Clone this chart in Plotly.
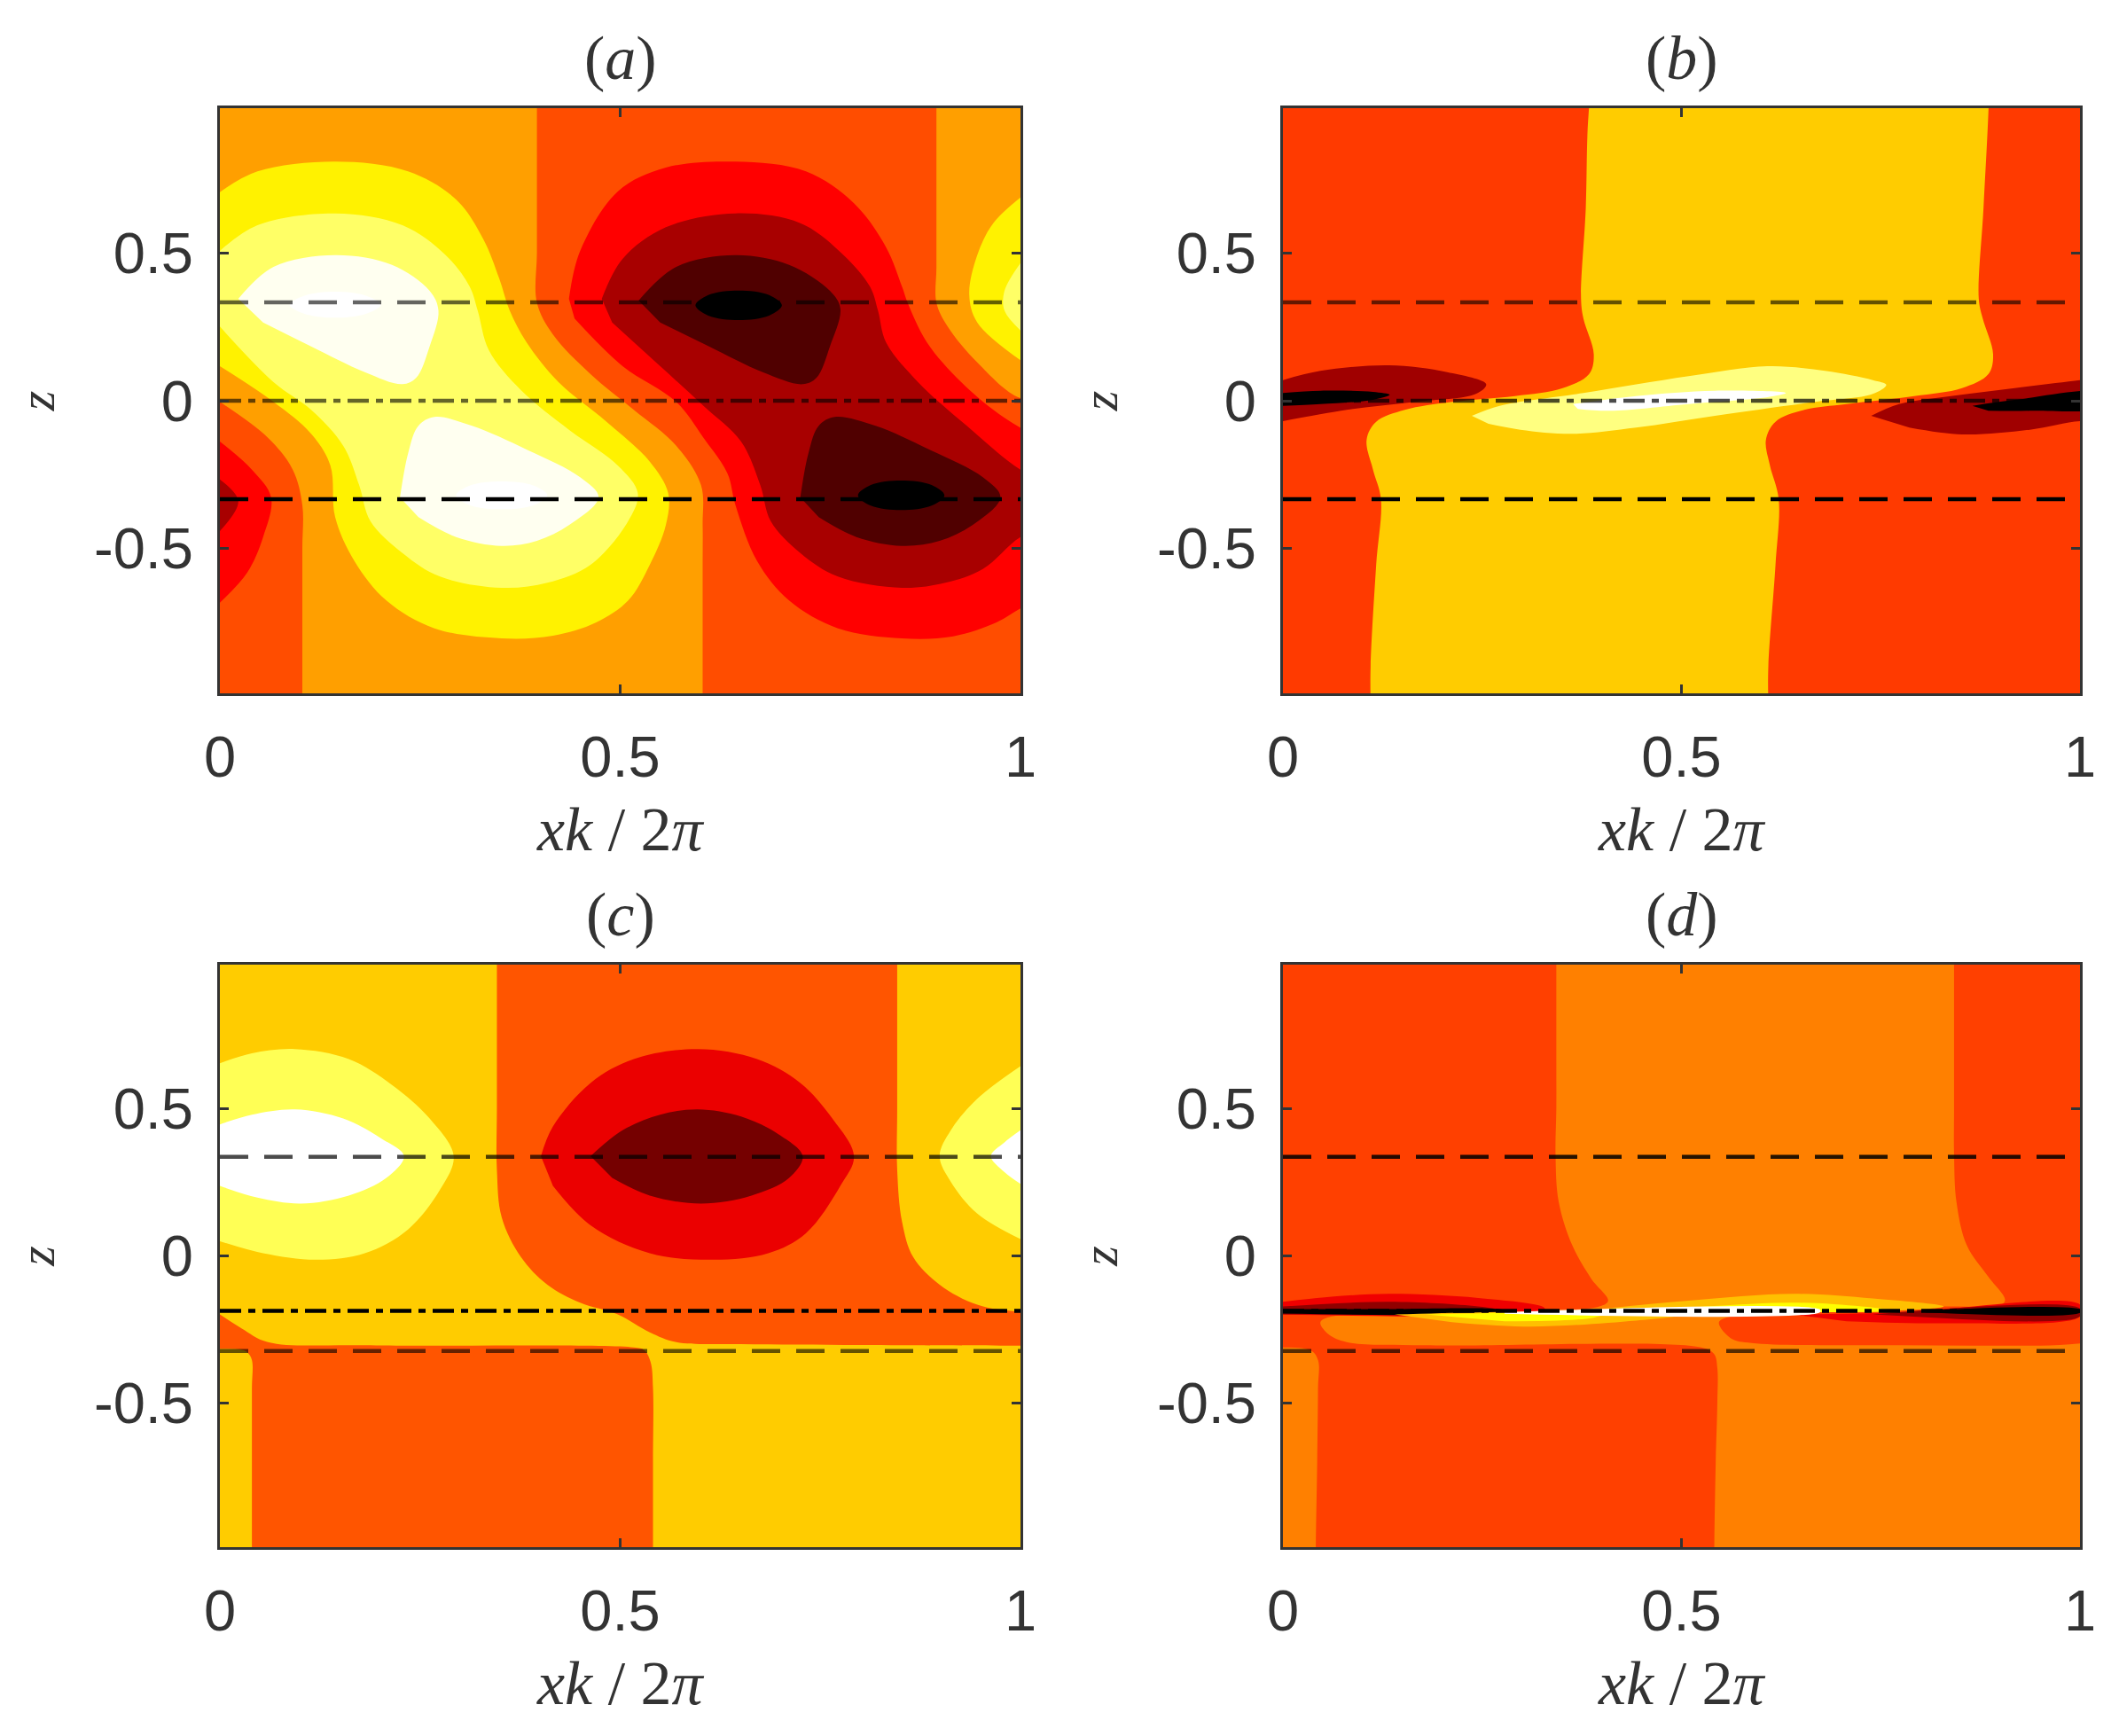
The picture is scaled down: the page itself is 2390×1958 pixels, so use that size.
# -*- coding: utf-8 -*-
import plotly.graph_objects as go

# contour outlines, (xk/2pi, z)
A_ORANGE = [(0,1.3),(.396,1.3),(.396,1.05),(.396,.7),(.396,.5),(.396,.332),(.416,.224),(.463,.09),(.517,-.031),(.57,-.152),(.601,-.286),(.603,-.421),(.603,-.55),(.603,-.7),(.603,-1.05),(.603,-1.3),(.103,-1.3),(.103,-1.05),(.103,-.7),(.103,-.5),(.103,-.353),(.091,-.233),(.06,-.125),(0,-.004)]
A_ORANGE_R = [(.895,1.3),(.895,1.05),(.895,.6),(.895,.45),(.895,.332),(.909,.251),(.946,.13),(1,.009),(1.05,.009),(1.05,1.3)]
A_YELLOW = [(0,.706),(.047,.776),(.144,.809),(.235,.776),(.295,.681),(.329,.547),(.349,.413),(.362,.305),(.383,.198),(.423,.063),(.483,-.071),(.537,-.206),(.56,-.313),(.557,-.421),(.537,-.555),(.51,-.676),(.47,-.75),(.416,-.795),(.352,-.804),(.268,-.77),(.208,-.676),(.168,-.542),(.144,-.394),(.138,-.219),(.114,-.112),(.067,-.004),(0,.117)]
A_YELLOW_R = [(1,.688),(.966,.601),(.946,.493),(.936,.359),(.946,.265),(1,.137)]
A_LIGHT = [(0,.507),(.047,.594),(.144,.634),(.228,.594),(.282,.493),(.312,.386),(.322,.305),(.336,.171),(.376,.036),(.436,-.098),(.497,-.219),(.522,-.313),(.51,-.407),(.463,-.555),(.409,-.616),(.352,-.633),(.275,-.595),(.228,-.515),(.188,-.407),(.174,-.286),(.154,-.152),(.114,-.031),(.067,.063),(0,.251)]
A_LIGHT_R = [(1,.466),(.98,.372),(.98,.305),(1,.238)]
A_PALE_TOP = [(.023,.345),(.067,.453),(.144,.493),(.215,.46),(.262,.372),(.273,.305),(.262,.184),(.245,.077),(.228,.056),(.181,.097),(.114,.184),(.054,.265)]
A_PALE_BOT = [(.225,-.327),(.235,-.179),(.248,-.085),(.268,-.055),(.315,-.085),(.383,-.165),(.45,-.259),(.473,-.327),(.436,-.421),(.396,-.474),(.352,-.491),(.295,-.461),(.248,-.394)]
A_WHITE_TOP = [(.087,.325),(.105,.355),(.144,.369),(.183,.355),(.201,.325),(.183,.295),(.144,.281),(.105,.295),(.087,.325)]
A_WHITE_BOT = [(.295,-.32),(.312,-.287),(.352,-.273),(.392,-.287),(.409,-.32),(.392,-.353),(.352,-.367),(.312,-.353),(.295,-.32)]
A_RED = [(.436,.345),(.45,.507),(.497,.708),(.557,.789),(.644,.809),(.732,.776),(.792,.668),(.832,.52),(.852,.386),(.859,.332),(.883,.198),(.926,.063),(.98,-.058),(1.04,-.15),(1.1,-.25),(1.1,-.55),(1.04,-.65),(1,-.703),(.97,-.75),(.916,-.797),(.852,-.804),(.772,-.77),(.711,-.676),(.671,-.542),(.644,-.353),(.634,-.246),(.604,-.125),(.57,-.004),(.503,.117),(.443,.278)]
A_RED_L = [(0,-.138),(.04,-.233),(.064,-.327),(.054,-.461),(.034,-.582),(0,-.683)]
A_DARK = [(.477,.345),(.503,.48),(.557,.587),(.644,.634),(.725,.601),(.779,.493),(.812,.386),(.822,.305),(.832,.198),(.872,.063),(.933,-.085),(1,-.233),(1.04,-.28),(1.06,-.36),(1.04,-.42),(1,-.461),(.953,-.569),(.906,-.616),(.852,-.633),(.772,-.595),(.725,-.515),(.688,-.407),(.675,-.286),(.651,-.138),(.604,-.017),(.55,.117),(.49,.265)]
A_DARK_L = [(0,-.266),(.023,-.34),(0,-.441)]
A_VDARK_TOP = [(.523,.339),(.57,.453),(.644,.493),(.711,.46),(.762,.372),(.775,.312),(.762,.184),(.745,.077),(.728,.056),(.678,.097),(.611,.184),(.55,.265)]
A_VDARK_BOT = [(.725,-.327),(.735,-.179),(.748,-.085),(.768,-.055),(.819,-.085),(.886,-.165),(.953,-.259),(.975,-.327),(.94,-.421),(.899,-.474),(.852,-.491),(.795,-.461),(.748,-.394)]
A_BLACK_TOP = [(.594,.323),(.61,.358),(.648,.373),(.686,.358),(.702,.323),(.686,.288),(.648,.273),(.61,.288),(.594,.323)]
A_BLACK_BOT = [(.797,-.32),(.813,-.285),(.851,-.27),(.889,-.285),(.905,-.32),(.889,-.355),(.851,-.37),(.813,-.355),(.797,-.32)]

B_YELLOW = [(.385,1.3),(.385,1.05),(.382,.9),(.38,.655),(.374,.345),(.377,.278),(.39,.157),(.384,.09),(.351,.043),(.291,.016),(.212,-.004),(.153,-.031),(.117,-.071),(.105,-.132),(.113,-.233),(.123,-.333),(.117,-.555),(.11,-.9),(.11,-1.05),(.11,-1.3),(.609,-1.3),(.609,-1.05),(.609,-.9),(.618,-.555),(.622,-.333),(.611,-.219),(.606,-.132),(.618,-.071),(.654,-.031),(.707,-.011),(.792,.016),(.852,.043),(.885,.09),(.891,.157),(.878,.278),(.873,.345),(.879,.655),(.886,1.05),(.886,1.3)]
B_LIGHT = [(.237,-.051),(.272,-.017),(.377,.026),(.509,.083),(.608,.117),(.68,.101),(.74,.07),(.757,.054),(.74,.023),(.667,-.004),(.542,-.051),(.443,-.091),(.364,-.112),(.298,-.098),(.258,-.078)]
B_WHITE = [(.364,-.011),(.443,.016),(.542,.034),(.631,.026),(.608,.012),(.509,-.011),(.41,-.034),(.37,-.028)]
B_DARK_L = [(0,.07),(.047,.101),(.133,.12),(.206,.097),(.255,.056),(.242,.023),(.166,-.004),(.08,-.031),(0,-.069)]
B_BLACK_L = [(0,.026),(.047,.034),(.113,.03),(.134,.02),(.113,.003),(.047,-.011),(0,-.017)]
B_DARK_R = [(.738,-.051),(.773,-.011),(.838,.016),(.918,.043),(1,.07),(1.03,.08),(1.03,-.075),(1,-.069),(.937,-.098),(.852,-.114),(.786,-.091)]
B_BLACK_R = [(.865,-.017),(.918,.003),(1.03,.026),(1.03,-.02),(.937,-.034),(.885,-.034)]

C_RED_UP = [(.346,1.3),(.346,1.05),(.346,.7),(.346,.5),(.346,.292),(.352,.131),(.376,-.004),(.409,-.098),(.45,-.159),(.497,-.199),(.537,-.26),(.57,-.293),(.651,-.3),(.8,-.303),(1,-.305),(1.1,-.305),(1.1,-.19),(1,-.19),(.946,-.166),(.899,-.098),(.866,-.004),(.852,.117),(.846,.292),(.846,.5),(.846,.7),(.846,1.05),(.846,1.3)]
C_RED_LOW = [(0,-.199),(.027,-.246),(.06,-.293),(.181,-.304),(.517,-.311),(.53,-.32),(.538,-.361),(.541,-.45),(.541,-.7),(.541,-1.05),(.541,-1.3),(.04,-1.3),(.04,-1.05),(.04,-.7),(.04,-.45),(.04,-.354),(.034,-.327),(.025,-.318),(0,-.316)]
C_LIGHT_L = [(0,.655),(.04,.689),(.094,.703),(.161,.669),(.215,.581),(.262,.467),(.292,.339),(.275,.225),(.235,.09),(.181,.009),(.121,-.013),(.054,.009),(0,.05)]
C_WHITE_L = [(0,.447),(.04,.48),(.094,.498),(.154,.467),(.201,.4),(.23,.339),(.208,.265),(.161,.205),(.101,.178),(.047,.198),(0,.238)]
C_LIGHT_R = [(1,.645),(.946,.534),(.913,.427),(.899,.339),(.913,.252),(.946,.144),(1,.057)]
C_WHITE_R = [(1,.427),(.98,.386),(.963,.339),(.98,.285),(1,.245)]
C_RED = [(.401,.339),(.416,.44),(.463,.588),(.517,.669),(.597,.703),(.671,.669),(.725,.588),(.765,.467),(.792,.339),(.775,.238),(.732,.077),(.685,.009),(.617,-.013),(.537,.009),(.463,.104),(.416,.238)]
C_DARK = [(.463,.339),(.503,.427),(.55,.48),(.597,.498),(.651,.474),(.698,.413),(.728,.339),(.711,.265),(.664,.205),(.601,.178),(.537,.205),(.49,.265)]

D_ORANGE = [(.343,1.3),(.343,1.05),(.343,.7),(.343,.5),(.342,.346),(.346,.184),(.363,.036),(.387,-.078),(.408,-.152),(.397,-.172),(.311,-.186),(.14,-.199),(.061,-.206),(.047,-.226),(.057,-.266),(.08,-.293),(.179,-.304),(.525,-.311),(.541,-.334),(.545,-.381),(.545,-.5),(.543,-.7),(.541,-1.05),(.541,-1.3),(1.1,-1.3),(1.1,-.4),(1.1,-.307),(.95,-.305),(.773,-.304),(.588,-.296),(.562,-.28),(.547,-.226),(.562,-.206),(.641,-.19),(.825,-.172),(.901,-.166),(.906,-.149),(.885,-.071),(.858,.036),(.845,.184),(.842,.346),(.842,.5),(.842,.7),(.842,1.05),(.842,1.3)]
D_ORANGE_L = [(-.05,-.32),(.034,-.32),(.044,-.354),(.044,-.45),(.043,-.7),(.041,-1.05),(.041,-1.3),(-.05,-1.3)]
D_RED_L = [(0,-.156),(.061,-.139),(.133,-.129),(.245,-.143),(.328,-.176),(.328,-.187),(0,-.199)]
D_DARK_L = [(0,-.172),(.133,-.156),(.245,-.172),(.278,-.187),(0,-.199)]
D_BLACK_L = [(0,-.181),(.113,-.181),(.278,-.185),(.278,-.19),(0,-.196)]
D_RED_R = [(.641,-.199),(.773,-.192),(1,-.166),(1,-.206),(.838,-.229),(.707,-.222)]
D_DARK_R = [(.74,-.199),(1,-.179),(1,-.206),(.838,-.213)]
D_BLACK_R = [(.806,-.186),(1,-.183),(1,-.193),(.806,-.192)]
D_AMBER_T = [(.403,-.179),(.509,-.152),(.641,-.129),(.74,-.145),(.829,-.172),(.759,-.188),(.575,-.188)]
D_YELLOW_T = [(.509,-.176),(.641,-.159),(.726,-.172),(.766,-.186),(.575,-.19)]
D_AMBER_B = [(.14,-.199),(.245,-.192),(.403,-.19),(.509,-.199),(.443,-.22),(.311,-.24),(.212,-.225)]
D_YELLOW_B = [(.179,-.199),(.311,-.192),(.41,-.19),(.39,-.21),(.278,-.222)]
D_WHITE = [(.278,-.191),(.674,-.183),(.674,-.191),(.278,-.197)]

# dashed / dash-dot levels, (z, opacity)
A_LEVELS = [(.333,.6),(0,.6),(-.333,1)]
B_LEVELS = [(.333,.6),(0,.7),(-.333,1)]
C_LEVELS = [(.337,.7),(-.187,1),(-.323,.6)]
D_LEVELS = [(.337,.85),(-.187,1),(-.323,.65)]

X_TICKS = [0,0.5,1]
X_TICK_TEXT = ['0','0.5','1']
Z_TICKS = [-0.5,0,0.5]
Z_TICK_TEXT = ['-0.5','0','0.5']
TITLES = ['<i>a</i>','<i>b</i>','<i>c</i>','<i>d</i>']

PANELS = [
    ('#FF4D00', [(A_ORANGE,'#FF9F00'),(A_ORANGE_R,'#FF9F00'),(A_YELLOW,'#FFF200'),(A_YELLOW_R,'#FFF200'),
                 (A_LIGHT,'#FFFF66'),(A_LIGHT_R,'#FFFF66'),(A_PALE_TOP,'#FFFFF0'),(A_PALE_BOT,'#FFFFF0'),
                 (A_WHITE_TOP,'#FFFFFF'),(A_WHITE_BOT,'#FFFFFF'),(A_RED,'#FF0000'),(A_RED_L,'#FF0000'),
                 (A_DARK,'#A80000'),(A_DARK_L,'#A80000'),(A_VDARK_TOP,'#500000'),(A_VDARK_BOT,'#500000'),
                 (A_BLACK_TOP,'#000000'),(A_BLACK_BOT,'#000000')], A_LEVELS),
    ('#FF3A00', [(B_YELLOW,'#FFCC00'),(B_LIGHT,'#FFFF80'),(B_WHITE,'#FFFFFF'),(B_DARK_L,'#A00000'),
                 (B_BLACK_L,'#000000'),(B_DARK_R,'#A00000'),(B_BLACK_R,'#000000')], B_LEVELS),
    ('#FFCC00', [(C_RED_UP,'#FF5500'),(C_RED_LOW,'#FF5500'),(C_LIGHT_L,'#FFFF55'),(C_WHITE_L,'#FFFFFF'),
                 (C_LIGHT_R,'#FFFF55'),(C_WHITE_R,'#FFFFFF'),(C_RED,'#EB0000'),(C_DARK,'#750000')], C_LEVELS),
    ('#FF4000', [(D_ORANGE,'#FF8000'),(D_ORANGE_L,'#FF8000'),(D_RED_L,'#F00000'),(D_DARK_L,'#900000'),
                 (D_BLACK_L,'#000000'),(D_RED_R,'#F00000'),(D_DARK_R,'#900000'),(D_BLACK_R,'#000000'),
                 (D_AMBER_T,'#FFC000'),(D_YELLOW_T,'#FFFF00'),(D_AMBER_B,'#FFC000'),(D_YELLOW_B,'#FFFF00'),
                 (D_WHITE,'#FFFFFF')], D_LEVELS),
]

W=2390
H=1958
TEXT='#333333'
SANS='Liberation Sans'
SERIF='Liberation Serif'
DOMX=[[248/W,1151/W],[1447/W,2346/W],[248/W,1151/W],[1447/W,2346/W]]
DOMY=[[1-782/H,1-122/H],[1-782/H,1-122/H],[1-1745/H,1-1088/H],[1-1745/H,1-1088/H]]

fig=go.Figure()
for i,(back,regions,levels) in enumerate(PANELS):
    s='' if i==0 else str(i+1)
    # the lowest band fills the whole frame
    fig.add_trace(go.Scatter(
        x=[-1,2,2,-1],y=[-2,-2,2,2],xaxis='x'+s,yaxis='y'+s,mode='lines',
        line={'width':0},fill='toself',fillcolor=back,hoverinfo='skip',showlegend=False))
    for pts,col in regions:
        fig.add_trace(go.Scatter(
            x=[p[0] for p in pts],y=[p[1] for p in pts],xaxis='x'+s,yaxis='y'+s,mode='lines',
            line={'width':0,'shape':'spline','simplify':False},fill='toself',fillcolor=col,
            hoverinfo='skip',showlegend=False))
    for j,(lev,op) in enumerate(levels):
        dash='24px,8px,8px,8px' if j==1 else '32px,18px'
        fig.add_trace(go.Scatter(
            x=[0,1],y=[lev,lev],xaxis='x'+s,yaxis='y'+s,mode='lines',opacity=op,
            line={'width':4.5,'color':'black','dash':dash},hoverinfo='skip',showlegend=False))
    axis=dict(showgrid=False,zeroline=False,showline=True,linecolor=TEXT,linewidth=3,mirror='ticks',
              ticks='inside',ticklen=10,tickwidth=3,tickcolor=TEXT,automargin=False,
              tickfont={'family':SANS,'size':65,'color':TEXT})
    fig.update_layout({
        'xaxis'+s:dict(axis,domain=DOMX[i],range=[0,1],anchor='y'+s,tickvals=X_TICKS,ticktext=X_TICK_TEXT,
                       ticklabelstandoff=13),
        'yaxis'+s:dict(axis,domain=DOMY[i],range=[-.99,.99],anchor='x'+s,tickvals=Z_TICKS,ticktext=Z_TICK_TEXT,
                       ticklabelstandoff=14,
                       title={'text':'<i>z</i>','font':{'family':SERIF,'size':58,'color':TEXT},'standoff':26}),
    })
    fig.add_annotation(
        x=sum(DOMX[i])/2,y=DOMY[i][1]+57/H,xref='paper',yref='paper',xanchor='center',yanchor='middle',
        showarrow=False,text='('+TITLES[i]+')',font={'family':SERIF,'size':70,'color':TEXT})
    fig.add_annotation(
        x=sum(DOMX[i])/2,y=DOMY[i][0]-153/H,xref='paper',yref='paper',xanchor='center',yanchor='middle',
        showarrow=False,text='<i>xk</i> / 2<i>π</i>',font={'family':SERIF,'size':70,'color':TEXT})

fig.update_layout(width=W,height=H,margin={'l':0,'r':0,'t':0,'b':0},paper_bgcolor='white',plot_bgcolor='white')
fig.write_html("out.html",config={'displayModeBar':False},post_script="document.body.style.margin='0';")
